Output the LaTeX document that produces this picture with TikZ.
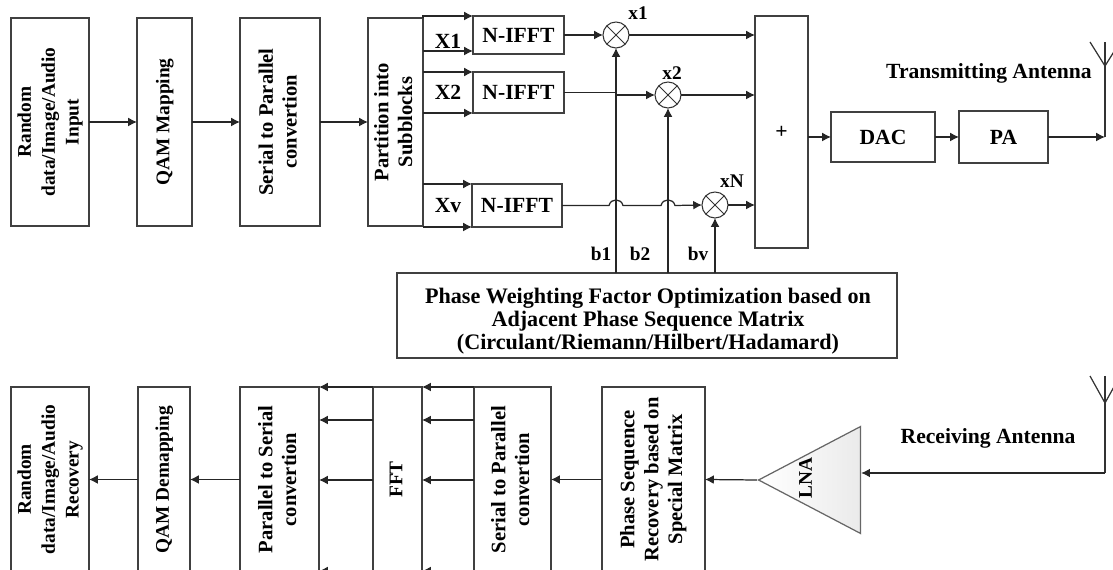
\documentclass[tikz,border=0pt]{standalone}
\usepackage{fontspec}
\setmainfont{Liberation Serif}
\usetikzlibrary{arrows.meta,shapes.geometric}
\newcommand{\vlab}[1]{\rotatebox{90}{\begin{tabular}{@{}c@{}}#1\end{tabular}}}
\tikzset{
  blk/.style={draw=black!75, line width=0.8pt, inner sep=0pt, outer sep=0pt, align=center},
  mix/.style={circle, draw=black!80, line width=0.6pt, minimum size=0.52cm, inner sep=0pt, outer sep=0pt,
    path picture={
      \draw[line width=0.5pt] (path picture bounding box.north west) -- (path picture bounding box.south east);
      \draw[line width=0.5pt] (path picture bounding box.south west) -- (path picture bounding box.north east);}},
  lab/.style={inner sep=0pt},
  tiny/.style={font=\fontsize{11}{13.6}\selectfont\bfseries},
  mid/.style={font=\fontsize{11.7}{13.6}\selectfont\bfseries},
  arr/.style={-{Latex[length=5pt,width=5pt]}, black!85, line width=0.7pt},
  wire/.style={black!80, line width=0.7pt}
}
\begin{document}
\begin{tikzpicture}[x=0.02cm, y=-0.02cm, font=\fontsize{12.3}{13.6}\selectfont\bfseries]
  \useasboundingbox (0,0) rectangle (1113,570);
  % Transmitter chain
  \node[blk, tiny, minimum width=1.56cm, minimum height=4.16cm] (rand) at (50,122)
    {\vlab{Random\\data/Image/Audio\\Input}};
  \node[blk, tiny, minimum width=1.1cm, minimum height=4.16cm] (qam) at (164.5,122) {\vlab{QAM Mapping}};
  \node[blk, mid, minimum width=1.6cm, minimum height=4.16cm] (ser) at (280,122) {\vlab{Serial to Parallel\\convertion}};
  \node[blk, mid, minimum width=1.1cm, minimum height=4.16cm] (part) at (395.5,122) {\vlab{Partition into\\Subblocks}};
  \draw[arr] (rand.east) -- (qam.west);
  \draw[arr] (qam.east) -- (ser.west);
  \draw[arr] (ser.east) -- (part.west);
  % Subblocks
  \node[blk, minimum width=1.82cm, minimum height=0.76cm] (ifa) at (518.5,35) {N-IFFT};
  \node[blk, minimum width=1.82cm, minimum height=0.82cm] (ifb) at (518.5,92.5) {N-IFFT};
  \node[blk, minimum width=1.8cm, minimum height=0.86cm] (ifv) at (517,205.5) {N-IFFT};
  \coordinate (ifaL) at (473,51);
  \draw[arr] (part.north east) |- (ifa.north west);
  \draw[arr] (part.east |- ifaL) -- (ifaL);
  \draw[arr] (part.east |- ifb.north west) -- (ifb.north west);
  \draw[arr] (part.east |- ifb.south west) -- (ifb.south west);
  \draw[arr] (part.east |- ifv.north west) -- (ifv.north west);
  \draw[arr] (part.east |- ifv.south west) -- (ifv.south west);
  \node[lab] (xa) at (448,41) {X1};
  \node[lab] (xb) at (448,92) {X2};
  \node[lab] (xv) at (448,206) {Xv};
  % Mixers and adder
  \node[mix] (mixa) at (616,35) {};
  \node[mix] (mixb) at (668,95) {};
  \node[mix] (mixv) at (715,205) {};
  \node[lab, tiny] (ta) at (638,13) {x1};
  \node[lab, tiny] (tb) at (672,73) {x2};
  \node[lab, tiny] (tv) at (732,181) {xN};
  \node[blk, minimum width=1.06cm, minimum height=4.64cm] (sum) at (781.5,132) {+};
  \draw[arr] (ifa.east) -- (mixa.west);
  \draw[arr] (ifb.east) -- (ifb.east -| mixa) |- (mixb.west);
  \draw[arr] (ifv.east) -- (609,205.5) .. controls (611,198) and (621,198) .. (623,205.5)
    -- (661,205.5) .. controls (663,198) and (673,198) .. (675,205.5) -- (mixv.west);
  \draw[arr] (mixa.east) -- (sum.west |- mixa);
  \draw[arr] (mixb.east) -- (sum.west |- mixb);
  \draw[arr] (mixv.east) -- (sum.west |- mixv);
  % Phase weighting
  \node[blk, minimum width=10cm, minimum height=1.7cm] (phw) at (647,315.5) {};
  \node[lab, align=center, font=\fontsize{12.6}{13}\selectfont\bfseries] (phwlab) at (648,321)
    {Phase Weighting Factor Optimization based on\\Adjacent Phase Sequence Matrix\\(Circulant/Riemann/Hilbert/Hadamard)};
  \draw[arr] (mixa.south |- phw.north) -- (mixa.south);
  \draw[arr] (mixb.south |- phw.north) -- (mixb.south);
  \draw[arr] (mixv.south |- phw.north) -- (mixv.south);
  \node[lab, tiny] (ba) at (601,254) {b1};
  \node[lab, tiny] (bb) at (640,254) {b2};
  \node[lab, tiny] (bv) at (698,254) {bv};
  % Output and transmit antenna
  \node[blk, minimum width=2.08cm, minimum height=1cm] (dac) at (883,137) {DAC};
  \node[blk, minimum width=1.78cm, minimum height=1.04cm] (pa) at (1003.5,137) {PA};
  \draw[arr] (sum.east |- dac) -- (dac.west);
  \draw[arr] (dac.east) -- (pa.west);
  \coordinate (txc) at (1105,137);
  \coordinate (txf) at (1105,66);
  \coordinate (txt) at (1105,42);
  \coordinate (txl) at (1090,42);
  \coordinate (txr) at (1120,42);
  \draw[arr] (pa.east) -- (txc);
  \draw[wire] (txc) -- (txf) -- (txt);
  \draw[wire] (txl) -- (txf) -- (txr);
  \node[lab] (txlab) at (989,73) {Transmitting Antenna};
  % Receive antenna and LNA
  \coordinate (rxc) at (1105,473);
  \coordinate (rxf) at (1105,403);
  \coordinate (rxt) at (1105,376);
  \coordinate (rxl) at (1090,376);
  \coordinate (rxr) at (1120,376);
  \draw[wire] (rxt) -- (rxf) -- (rxc);
  \draw[wire] (rxl) -- (rxf) -- (rxr);
  \node[lab] (rxlab) at (988,438) {Receiving Antenna};
  \node[isosceles triangle, isosceles triangle stretches, shape border rotate=180, draw=black!60, line width=0.7pt,
    left color=white, right color=black!8, minimum width=2.14cm, minimum height=2.04cm, inner sep=0pt, anchor=apex] (lna) at (757,480) {};
  \node[lab, tiny] (lnalab) at (807,478) {\vlab{LNA}};
  \draw[arr] (rxc) -- (rxc -| lna.lower side);
  % Receiver chain
  \node[blk, tiny, minimum width=1.56cm, minimum height=3.7cm] (rec) at (50,479.5)
    {\vlab{Random\\data/Image/Audio\\Recovery}};
  \node[blk, tiny, minimum width=1.04cm, minimum height=3.7cm] (dem) at (164,479.5) {\vlab{QAM Demapping}};
  \node[blk, mid, minimum width=1.58cm, minimum height=3.7cm] (pts) at (279.5,479.5) {\vlab{Parallel to Serial\\convertion}};
  \node[blk, tiny, minimum width=0.98cm, minimum height=3.7cm] (fft) at (397.5,479.5) {\vlab{FFT}};
  \node[blk, mid, minimum width=1.54cm, minimum height=3.7cm] (stp) at (512.5,479.5) {\vlab{Serial to Parallel\\convertion}};
  \node[blk, mid, minimum width=2.06cm, minimum height=3.7cm] (phr) at (653.5,479.5)
    {\vlab{Phase Sequence\\Recovery based on\\Special Matrix}};
  \draw[arr] (lna.apex) -- (phr.east);
  \draw[arr] (phr.west) -- (stp.east);
  \foreach \y in {387,420,480,571} {
    \draw[arr] (stp.west |- 0,\y) -- (fft.east |- 0,\y);
    \draw[arr] (fft.west |- 0,\y) -- (pts.east |- 0,\y);
  }
  \draw[arr] (pts.west) -- (dem.east);
  \draw[arr] (dem.west) -- (rec.east);
\end{tikzpicture}
\end{document}
